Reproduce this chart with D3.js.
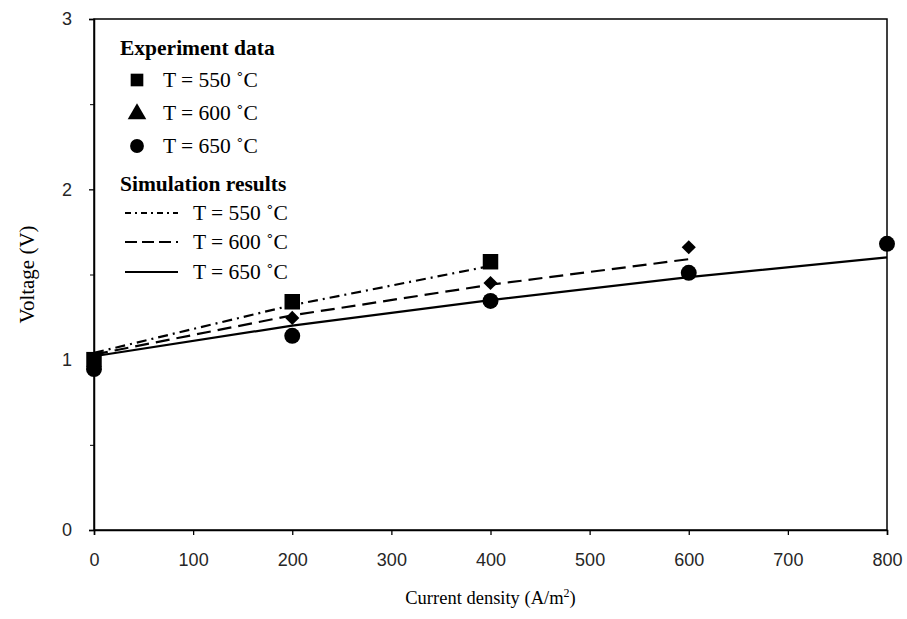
<!DOCTYPE html>
<html>
<head>
<meta charset="utf-8">
<script src="https://cdn.jsdelivr.net/npm/d3@7"></script>
<style>
  html, body { margin: 0; padding: 0; background: #fff; }
  svg { display: block; }
</style>
</head>
<body>
<svg id="chart" width="907" height="619"></svg>
<script>
// Current density (A/m2) where measurements / simulations were taken
const currentDensity = [0, 200, 400, 600, 800];

// Measured cell voltage (V)
const exp550 = [1.00, 1.34, 1.575];
const exp600 = [0.97, 1.245, 1.45, 1.66];
const exp650 = [0.945, 1.14, 1.345, 1.51, 1.68];

// Simulated cell voltage (V)
const sim550 = [1.04, 1.32, 1.55];
const sim600 = [1.03, 1.26, 1.44, 1.59];
const sim650 = [1.02, 1.20, 1.35, 1.485, 1.60];

const xTicks = [0, 100, 200, 300, 400, 500, 600, 700, 800];
const yTicks = [0, 1, 2, 3];
const yMinorTicks = [0.5, 1.5, 2.5];

const legendExperiment = ["T = 550 \u02DAC", "T = 600 \u02DAC", "T = 650 \u02DAC"];
const legendSimulation = ["T = 550 \u02DAC", "T = 600 \u02DAC", "T = 650 \u02DAC"];

const svg = d3.select("#chart");
const margin = { left: 94, right: 20, top: 19, bottom: 89 };
const W = 907, H = 619;

const x = d3.scaleLinear().domain([0, 800]).range([margin.left, W - margin.right]);
const y = d3.scaleLinear().domain([0, 3]).range([H - margin.bottom, margin.top]);

const serif = "'Liberation Serif', 'Times New Roman', serif";
const tickFont = "'Liberation Sans', Arial, sans-serif";

// Plot frame
svg.append("rect")
  .attr("x", x(0)).attr("y", y(3))
  .attr("width", x(800) - x(0)).attr("height", y(0) - y(3))
  .attr("fill", "none").attr("stroke", "#000").attr("stroke-width", 1.5);

// Axes
const xAxis = svg.append("g")
  .attr("transform", `translate(0,${y(0)})`)
  .call(d3.axisBottom(x).tickValues(xTicks).tickSize(5).tickPadding(18).tickFormat(d3.format("d")));
const yAxis = svg.append("g")
  .attr("transform", `translate(${x(0)},0)`)
  .call(d3.axisLeft(y).tickValues(yTicks).tickSize(5).tickPadding(17).tickFormat(d3.format("d")));
svg.append("g")
  .attr("transform", `translate(${x(0)},0)`)
  .call(d3.axisLeft(y).tickValues(yMinorTicks).tickSize(4).tickFormat(""))
  .call(g => g.select(".domain").remove());

[xAxis, yAxis].forEach(g => {
  g.select(".domain").attr("stroke-width", 1.5);
  g.selectAll(".tick line").attr("stroke-width", 1.3);
  g.selectAll(".tick text")
    .attr("font-family", tickFont)
    .attr("font-size", 18)
    .attr("fill", "#262626");
});
svg.selectAll(".tick line").attr("stroke", "#000");

// Axis titles
svg.append("text")
  .attr("x", (x(0) + x(800)) / 2).attr("y", 604)
  .attr("text-anchor", "middle")
  .attr("font-family", serif).attr("font-size", 18.5)
  .call(t => {
    t.append("tspan").text("Current density (A/m");
    t.append("tspan").attr("font-size", 12).attr("dy", -7).text("2");
    t.append("tspan").attr("dy", 7).text(")");
  });
svg.append("text")
  .attr("transform", `translate(34,${(y(0) + y(3)) / 2}) rotate(-90)`)
  .attr("text-anchor", "middle")
  .attr("font-family", serif).attr("font-size", 21)
  .text("Voltage (V)");

// Simulation curves
const line = d3.line().x((d, i) => x(currentDensity[i])).y(d => y(d));
const simSeries = [
  { values: sim550, dash: "10,5,2,5" },
  { values: sim600, dash: "14,7" },
  { values: sim650, dash: null }
];
simSeries.forEach(s => {
  svg.append("path")
    .datum(s.values)
    .attr("d", line)
    .attr("fill", "none")
    .attr("stroke", "#000")
    .attr("stroke-width", 2.2)
    .attr("stroke-dasharray", s.dash);
});

// Experimental markers; the diamond is a square turned 45 degrees
const squareDiamond = {
  draw(ctx, size) {
    const r = Math.sqrt(size / 2);
    ctx.moveTo(0, -r); ctx.lineTo(r, 0); ctx.lineTo(0, r); ctx.lineTo(-r, 0); ctx.closePath();
  }
};
const sym = {
  square: d3.symbol().type(d3.symbolSquare).size(240),
  diamond: d3.symbol().type(squareDiamond).size(100),
  circle: d3.symbol().type(d3.symbolCircle).size(200)
};
function markers(values, gen) {
  svg.append("g").selectAll("path")
    .data(values)
    .join("path")
    .attr("transform", (d, i) => `translate(${x(currentDensity[i])},${y(d)})`)
    .attr("d", gen)
    .attr("fill", "#000");
}
markers(exp650, sym.circle);
markers(exp600, sym.diamond);
markers(exp550, sym.square);

// Legend
const leg = svg.append("g").attr("font-family", serif).attr("fill", "#000");
leg.append("text").attr("x", 120).attr("y", 55)
  .attr("font-size", 21.5).attr("font-weight", "bold").text("Experiment data");
const legSyms = [
  d3.symbol().type(d3.symbolSquare).size(160),
  d3.symbol().type(d3.symbolTriangle).size(150),
  d3.symbol().type(d3.symbolCircle).size(150)
];
const expRowY = [80, 113, 146];
legendExperiment.forEach((label, i) => {
  leg.append("path")
    .attr("transform", `translate(137,${expRowY[i] + (i === 1 ? 1 : 0)})`)
    .attr("d", legSyms[i]())
    .attr("fill", "#000");
  leg.append("text").attr("x", 163).attr("y", expRowY[i] + 7)
    .attr("font-size", 21.5).text(label);
});
leg.append("text").attr("x", 120).attr("y", 191)
  .attr("font-size", 21.5).attr("font-weight", "bold").text("Simulation results");
const simRowY = [213, 242, 272];
legendSimulation.forEach((label, i) => {
  leg.append("line")
    .attr("x1", 125).attr("x2", 178)
    .attr("y1", simRowY[i]).attr("y2", simRowY[i])
    .attr("stroke", "#000").attr("stroke-width", 1.8)
    .attr("stroke-dasharray", i === 0 ? "6,4,2,4" : i === 1 ? "12,5" : null);
  leg.append("text").attr("x", 193).attr("y", simRowY[i] + 7)
    .attr("font-size", 21.5).text(label);
});
</script>
</body>
</html>
